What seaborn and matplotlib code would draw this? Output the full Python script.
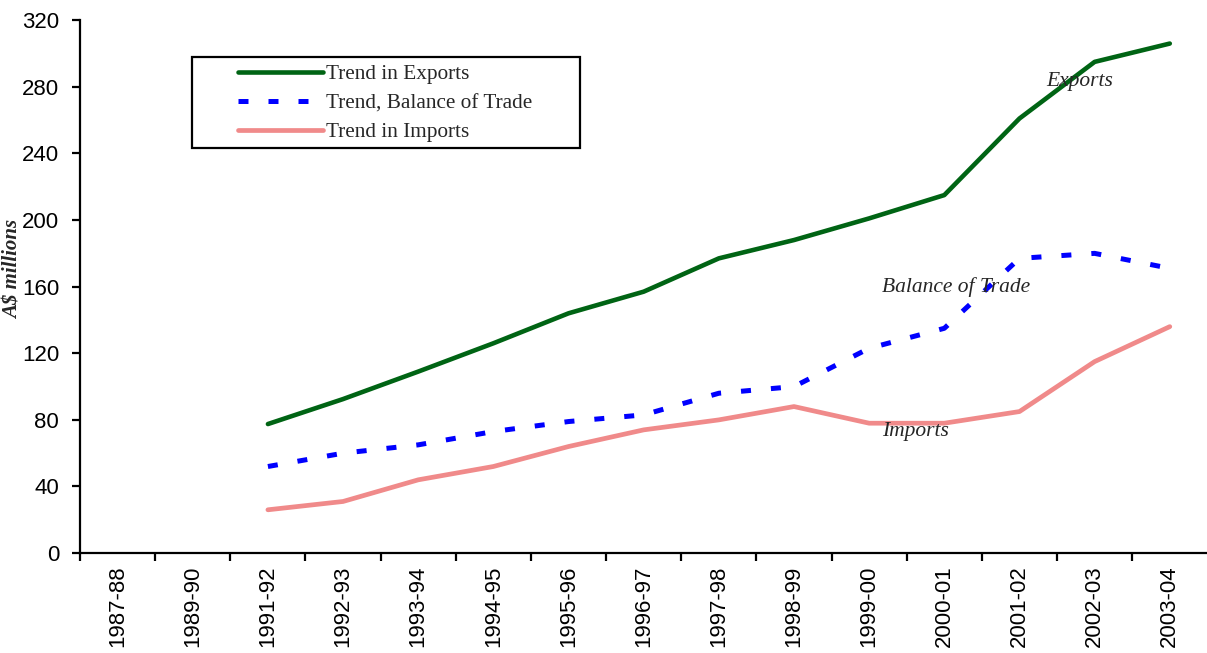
import matplotlib
matplotlib.use("Agg")
import matplotlib.pyplot as plt
from matplotlib.patches import Rectangle
import seaborn as sns
import pandas as pd
import numpy as np

years = ["1987-88", "1989-90", "1991-92", "1992-93", "1993-94", "1994-95", "1995-96",
         "1996-97", "1997-98", "1998-99", "1999-00", "2000-01", "2001-02", "2002-03", "2003-04"]
data_years = years[2:]
exports = [77.5, 92.5, 109, 126, 144, 157, 177, 188, 201, 215, 261, 295, 306]
balance = [52, 60, 65, 73, 79, 83, 96, 100, 123, 135, 177, 180, 171]
imports = [26, 31, 44, 52, 64, 74, 80, 88, 78, 78, 85, 115, 136]
yticks = list(range(0, 321, 40))

series_names = ["Trend in Exports", "Trend, Balance of Trade", "Trend in Imports"]
rows = []
for name, vals in zip(series_names, [exports, balance, imports]):
    for y, v in zip(data_years, vals):
        rows.append({"year": y, "pos": years.index(y), "value": v, "series": name})
df = pd.DataFrame(rows)

sns.set_theme(style="white")
plt.rcParams["font.family"] = ["Liberation Sans", "DejaVu Sans"]

fig = plt.figure(figsize=(12.07, 6.53), dpi=100)
ax = fig.add_axes([0.0663, 0.153, 0.934, 0.816])

palette = {"Trend in Exports": "#006414",
           "Trend, Balance of Trade": "#0000ff",
           "Trend in Imports": "#f08a8a"}
sns.lineplot(data=df, x="pos", y="value", hue="series", palette=palette,
             hue_order=series_names, ax=ax, legend=False, sort=False)
lines = ax.get_lines()
lines[0].set_linewidth(3.3)
lines[0].set_solid_capstyle("round")
lines[1].set_linewidth(3.6)
lines[1].set_dashes([2.0, 4.0])
lines[1].set_dash_capstyle("butt")
lines[2].set_linewidth(3.4)

ax.set_xlim(-0.5, len(years) - 0.5)
ax.set_ylim(0, 320)
ax.set_yticks(yticks)
ax.set_yticklabels([str(t) for t in yticks], fontsize=16)
ax.set_xticks(range(len(years)))
ax.set_xticklabels(years, rotation=90, fontsize=16)
ax.set_xticks(np.arange(-0.5, len(years) - 1, 1.0), minor=True)
ax.tick_params(axis="x", which="major", length=0, pad=9, colors="black")
ax.tick_params(axis="x", which="minor", length=6, width=1.6, direction="out", bottom=True, color="black")
ax.tick_params(axis="y", which="major", length=6, width=1.6, direction="out", left=True, colors="black", pad=9)

for s in ["top", "right"]:
    ax.spines[s].set_visible(False)
for s in ["left", "bottom"]:
    ax.spines[s].set_color("black")
    ax.spines[s].set_linewidth(1.6)
ax.set_xlabel("")
ax.set_ylabel("")
ax.grid(False)

serif = ["Liberation Serif", "DejaVu Serif"]
fig.text(14 / 1207, 1 - 269 / 653, "A$ millions", rotation=90, ha="center", va="center",
         fontsize=15, fontweight="bold", fontstyle="italic", family=serif)

ax.text(years.index("2002-03") - 0.65, 283, "Exports", fontsize=15.5, fontstyle="italic", family=serif, ha="left", va="center")
ax.text(years.index("1999-00") + 0.17, 160, "Balance of Trade", fontsize=15.5, fontstyle="italic", family=serif, ha="left", va="center")
ax.text(years.index("1999-00") + 0.17, 73, "Imports", fontsize=15.5, fontstyle="italic", family=serif, ha="left", va="center")

# legend frame drawn separately (wide box in reference)
frame = Rectangle((192 / 1207, 1 - 148 / 653), (580 - 192) / 1207, (148 - 57) / 653,
                  transform=fig.transFigure, fill=True, facecolor="white",
                  edgecolor="black", linewidth=1.6, zorder=5, clip_on=False)
ax.add_patch(frame)

leg = ax.legend(lines, series_names, loc="upper left",
                bbox_to_anchor=(232 / 1207, 1 - 58 / 653), bbox_transform=fig.transFigure,
                frameon=False, prop={"family": serif, "size": 15.3},
                handlelength=4.0, handletextpad=0.1, borderpad=0.3, labelspacing=0.43,
                borderaxespad=0)
leg.set_zorder(6)
leg.get_lines()[1].set_dashes([2.0, 4.0])

fig.savefig("out.png", dpi=100, facecolor="white")
